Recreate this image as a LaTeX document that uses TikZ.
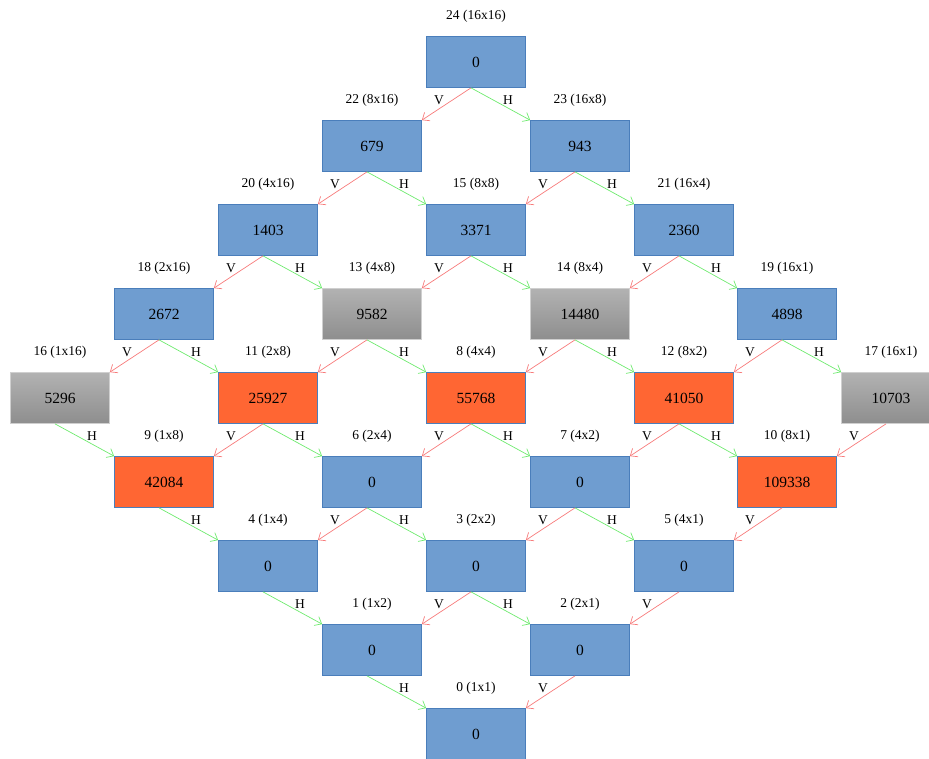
\documentclass[tikz,border=0pt]{standalone}
\usepackage{fontspec}
\setmainfont{Liberation Serif}
\usetikzlibrary{arrows.meta}
\definecolor{cellblue}{HTML}{6F9DD0}
\definecolor{cellborder}{HTML}{4A7EBB}
\definecolor{cellorange}{HTML}{FF6633}
\definecolor{graytop}{HTML}{B2B2B2}
\definecolor{graybot}{HTML}{8E8E8E}
\definecolor{grayedge}{HTML}{CFCFCF}
\definecolor{vred}{HTML}{F77B7B}
\definecolor{hgreen}{HTML}{6EEA6E}
\tikzset{
  cellbase/.style={minimum width=99pt, minimum height=51pt, inner sep=0pt,
    line width=0.7pt, font=\fontsize{15.5}{17}\selectfont},
  bluecell/.style={cellbase, fill=cellblue, draw=cellborder},
  orangecell/.style={cellbase, fill=cellorange, draw=cellborder},
  graycell/.style={cellbase, top color=graytop, bottom color=graybot, draw=grayedge},
  lbl/.style={font=\fontsize{13.5}{15}\selectfont, inner sep=0pt},
  vline/.style={draw=vred, line width=0.7pt, -{Straight Barb[length=6pt,width=10pt]}},
  hline/.style={draw=hgreen, line width=0.7pt, -{Straight Barb[length=6pt,width=10pt]}},
}
% \mkcell{name}{style}{x}{y}{caption}{value}
\newcommand{\mkcell}[6]{%
  \node[#2] (#1) at (#3,#4) {#6};
  \node[lbl] (#1t) at (#3,#4-45.5) {#5};}
% vertical split edge (down-left) and horizontal split edge (down-right)
\newcommand{\vedge}[2]{%
  \draw[vline] ([xshift=-5pt]#1.south) -- (#2.north east);
  \node[lbl] (#1v) at ([xshift=-37pt,yshift=-12pt]#1.south) {V};}
\newcommand{\hedge}[2]{%
  \draw[hline] ([xshift=-5pt]#1.south) -- (#2.north west);
  \node[lbl] (#1h) at ([xshift=32pt,yshift=-12pt]#1.south) {H};}
\begin{document}
\begin{tikzpicture}[x=1pt,y=-1pt]
\useasboundingbox (0,0) rectangle (929,758);
\clip (0,0) rectangle (929,758);
% row 0
\mkcell{n24}{bluecell}{476}{62}{24 (16x16)}{0}
% row 1
\mkcell{n22}{bluecell}{372}{146}{22 (8x16)}{679}
\mkcell{n23}{bluecell}{580}{146}{23 (16x8)}{943}
% row 2
\mkcell{n20}{bluecell}{268}{230}{20 (4x16)}{1403}
\mkcell{n15}{bluecell}{476}{230}{15 (8x8)}{3371}
\mkcell{n21}{bluecell}{684}{230}{21 (16x4)}{2360}
% row 3
\mkcell{n18}{bluecell}{164}{314}{18 (2x16)}{2672}
\mkcell{n13}{graycell}{372}{314}{13 (4x8)}{9582}
\mkcell{n14}{graycell}{580}{314}{14 (8x4)}{14480}
\mkcell{n19}{bluecell}{787}{314}{19 (16x1)}{4898}
% row 4
\mkcell{n16}{graycell}{60}{398}{16 (1x16)}{5296}
\mkcell{n11}{orangecell}{268}{398}{11 (2x8)}{25927}
\mkcell{n8}{orangecell}{476}{398}{8 (4x4)}{55768}
\mkcell{n12}{orangecell}{684}{398}{12 (8x2)}{41050}
\mkcell{n17}{graycell}{891}{398}{17 (16x1)}{10703}
% row 5
\mkcell{n9}{orangecell}{164}{482}{9 (1x8)}{42084}
\mkcell{n6}{bluecell}{372}{482}{6 (2x4)}{0}
\mkcell{n7}{bluecell}{580}{482}{7 (4x2)}{0}
\mkcell{n10}{orangecell}{787}{482}{10 (8x1)}{109338}
% row 6
\mkcell{n4}{bluecell}{268}{566}{4 (1x4)}{0}
\mkcell{n3}{bluecell}{476}{566}{3 (2x2)}{0}
\mkcell{n5}{bluecell}{684}{566}{5 (4x1)}{0}
% row 7
\mkcell{n1}{bluecell}{372}{650}{1 (1x2)}{0}
\mkcell{n2}{bluecell}{580}{650}{2 (2x1)}{0}
% row 8
\mkcell{n0}{bluecell}{476}{734}{0 (1x1)}{0}
% split edges
\vedge{n24}{n22} \hedge{n24}{n23}
\vedge{n22}{n20} \hedge{n22}{n15}
\vedge{n23}{n15} \hedge{n23}{n21}
\vedge{n20}{n18} \hedge{n20}{n13}
\vedge{n15}{n13} \hedge{n15}{n14}
\vedge{n21}{n14} \hedge{n21}{n19}
\vedge{n18}{n16} \hedge{n18}{n11}
\vedge{n13}{n11} \hedge{n13}{n8}
\vedge{n14}{n8}  \hedge{n14}{n12}
\vedge{n19}{n12} \hedge{n19}{n17}
\hedge{n16}{n9}
\vedge{n11}{n9}  \hedge{n11}{n6}
\vedge{n8}{n6}   \hedge{n8}{n7}
\vedge{n12}{n7}  \hedge{n12}{n10}
\vedge{n17}{n10}
\hedge{n9}{n4}
\vedge{n6}{n4}   \hedge{n6}{n3}
\vedge{n7}{n3}   \hedge{n7}{n5}
\vedge{n10}{n5}
\hedge{n4}{n1}
\vedge{n3}{n1}   \hedge{n3}{n2}
\vedge{n5}{n2}
\hedge{n1}{n0}
\vedge{n2}{n0}
\end{tikzpicture}
\end{document}
